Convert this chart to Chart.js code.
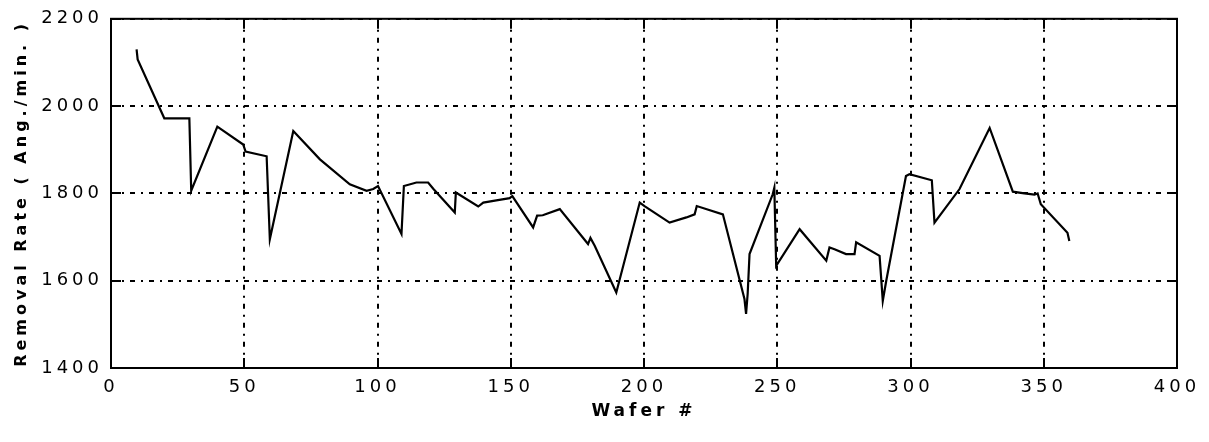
<!DOCTYPE html>
<html>
<head>
<meta charset="utf-8">
<script src="https://cdn.jsdelivr.net/npm/chart.js@4"></script>
<style>
  html, body { margin: 0; padding: 0; background: #fff; }
  #wrap { width: 1209px; height: 442px; }
</style>
</head>
<body>
<div id="wrap"><canvas id="rateChart"></canvas></div>
<script>
// Removal rate per wafer

const waferNums = [
    9.6, 10, 20, 29.4, 30.1, 39.9, 49.6, 50.5, 58.4, 59.6,
    68.4, 78.4, 89.6, 95.9, 98.4, 100.2, 109, 109.9, 114.6, 119,
    121, 129, 129.4, 137.8, 139.7, 144.6, 149.6, 150.6, 158.4, 159.9,
    162, 168.4, 179, 179.9, 181.5, 189.6, 198.4, 200.2, 209.6, 215.9,
    219, 219.8, 229.6, 237.7, 238.3, 238.9, 239.6, 248.3, 248.9, 249.6,
    258.4, 268.4, 269.6, 271.5, 275.8, 279, 279.6, 288.4, 289.6, 290.9,
    298.3, 299.6, 308, 309, 318.4, 329.7, 338.4, 342.7, 346.5, 347.7,
    348.9, 358.9, 359.6
];

const removalRates = [
    2130, 2107, 1972, 1972, 1806, 1953, 1912, 1896, 1885, 1695,
    1943, 1878, 1821, 1806, 1810, 1817, 1707, 1817, 1825, 1825,
    1810, 1756, 1802, 1770, 1779, 1784, 1789, 1794, 1722, 1749,
    1750, 1764, 1684, 1698, 1680, 1573, 1779, 1771, 1733, 1745,
    1752, 1771, 1752, 1558, 1524, 1570, 1661, 1798, 1813, 1634,
    1718, 1646, 1676, 1672, 1661, 1661, 1688, 1657, 1554, 1600,
    1840, 1844, 1830, 1733, 1810, 1950, 1804, 1800, 1797, 1800,
    1775, 1710, 1691
];

const xTicks = [0, 50, 100, 150, 200, 250, 300, 350, 400];
const yTicks = [1400, 1600, 1800, 2000, 2200];

const points = waferNums.map((x, i) => ({ x: x, y: removalRates[i] }));

const FONT = 'DejaVu Sans, Arial, sans-serif';

// Box around the plot area with short inward tick marks on all four sides
const frameTicksPlugin = {
    id: 'frameTicks',
    beforeDraw(chart) {
        chart.ctx.letterSpacing = '4px';
    },
    afterDraw(chart) {
        const ctx = chart.ctx;
        const area = chart.chartArea;
        const xs = chart.scales.x;
        const ys = chart.scales.y;
        const len = 10;

        ctx.save();
        ctx.strokeStyle = '#000';
        ctx.lineWidth = 2;
        ctx.beginPath();
        xTicks.forEach(v => {
            const px = Math.round(xs.getPixelForValue(v));
            ctx.moveTo(px, area.bottom);
            ctx.lineTo(px, area.bottom - len);
            ctx.moveTo(px, area.top);
            ctx.lineTo(px, area.top + len);
        });
        yTicks.forEach(v => {
            const py = Math.round(ys.getPixelForValue(v));
            ctx.moveTo(area.left, py);
            ctx.lineTo(area.left + len, py);
            ctx.moveTo(area.right, py);
            ctx.lineTo(area.right - len, py);
        });
        ctx.stroke();
        ctx.strokeRect(area.left, area.top, area.right - area.left, area.bottom - area.top);
        ctx.restore();
    }
};

const gridStyle = {
    color: '#000',
    lineWidth: 2,
    drawTicks: false
};

const plainNumber = value => String(value);

new Chart(document.getElementById('rateChart'), {
    type: 'scatter',
    plugins: [frameTicksPlugin],
    data: {
        datasets: [{
            data: points,
            showLine: true,
            borderColor: '#000',
            borderWidth: 2.2,
            pointRadius: 0,
            pointHoverRadius: 0,
            tension: 0
        }]
    },
    options: {
        responsive: true,
        maintainAspectRatio: false,
        animation: false,
        events: [],
        layout: {
            padding: { top: 17, right: 32, left: 0, bottom: 20 }
        },
        plugins: {
            legend: { display: false },
            tooltip: { enabled: false }
        },
        scales: {
            x: {
                type: 'linear',
                min: 0,
                max: 400,
                afterBuildTicks: scale => { scale.ticks = xTicks.map(v => ({ value: v })); },
                afterFit: scale => { scale.height = 54; },
                border: { display: false, dash: [5, 6, 2, 6] },
                grid: gridStyle,
                ticks: {
                    color: '#000',
                    padding: 9,
                    maxRotation: 0,
                    callback: plainNumber,
                    font: { family: FONT, size: 18 }
                },
                title: {
                    display: true,
                    text: 'Wafer #',
                    color: '#000',
                    padding: { top: 2, bottom: 0 },
                    font: { family: FONT, size: 17, weight: 'bold' }
                }
            },
            y: {
                type: 'linear',
                min: 1400,
                max: 2200,
                afterBuildTicks: scale => { scale.ticks = yTicks.map(v => ({ value: v })); },
                afterFit: scale => { scale.width = 111; },
                border: { display: false, dash: [5, 6, 2, 6] },
                grid: gridStyle,
                ticks: {
                    color: '#000',
                    padding: 8,
                    callback: plainNumber,
                    font: { family: FONT, size: 18 }
                },
                title: {
                    display: true,
                    text: 'Removal Rate ( Ang./min. )',
                    color: '#000',
                    padding: { top: 12, bottom: 2 },
                    font: { family: FONT, size: 16, weight: 'bold' }
                }
            }
        }
    }
});
</script>
</body>
</html>
